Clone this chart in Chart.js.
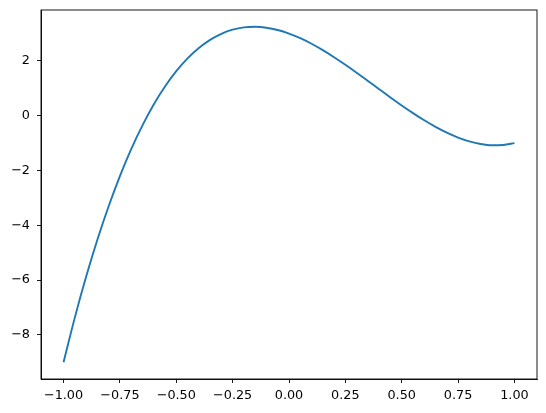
<!DOCTYPE html>
<html>
<head>
<meta charset="utf-8">
<script src="https://cdn.jsdelivr.net/npm/chart.js@4/dist/chart.umd.min.js"></script>
<style>
html,body{margin:0;padding:0;background:#fff;}
#wrap{width:546px;height:413px;position:relative;}
</style>
</head>
<body>
<div id="wrap"><canvas id="c"></canvas></div>
<script>
const xValues = [-1.00,-0.95,-0.90,-0.85,-0.80,-0.75,-0.70,-0.65,-0.60,-0.55,-0.50,-0.45,-0.40,-0.35,-0.30,-0.25,-0.20,-0.15,-0.10,-0.05,0.00,0.05,0.10,0.15,0.20,0.25,0.30,0.35,0.40,0.45,0.50,0.55,0.60,0.65,0.70,0.75,0.80,0.85,0.90,0.95,1.00];
const yValues = [-9.000,-7.372,-5.883,-4.529,-3.304,-2.203,-1.221,-0.352,0.408,1.065,1.625,2.092,2.472,2.770,2.991,3.141,3.224,3.246,3.213,3.129,3.000,2.831,2.627,2.394,2.136,1.859,1.569,1.270,0.968,0.668,0.375,0.095,-0.168,-0.408,-0.619,-0.797,-0.936,-1.031,-1.077,-1.068,-1.000];
const xTicks = [-1.00,-0.75,-0.50,-0.25,0.00,0.25,0.50,0.75,1.00];
const yTicks = [-8,-6,-4,-2,0,2];

const points = xValues.map((x,i)=>({x:x,y:yValues[i]}));

const frame = {
  id:'frame',
  afterDraw(chart){
    const a = chart.chartArea, ctx = chart.ctx;
    ctx.save();
    ctx.strokeStyle = '#000';
    ctx.lineWidth = 0.9;
    ctx.strokeRect(a.left, a.top, a.right-a.left, a.bottom-a.top);
    ctx.restore();
  }
};

new Chart(document.getElementById('c'), {
  type:'line',
  data:{datasets:[{data:points,borderColor:'#1f77b4',borderWidth:1.9,pointRadius:0,fill:false,cubicInterpolationMode:'monotone'}]},
  options:{
    responsive:true,maintainAspectRatio:false,animation:false,
    layout:{padding:{top:10,right:9,left:0,bottom:0}},
    plugins:{legend:{display:false},tooltip:{enabled:false}},
    scales:{
      x:{type:'linear',min:-1.1,max:1.1,
        afterBuildTicks(s){s.ticks=xTicks.map(v=>({value:v}));},
        afterFit(s){s.height=34;s.paddingLeft=0;s.paddingRight=0;},
        grid:{drawOnChartArea:false,drawTicks:true,tickLength:4,color:'#000',lineWidth:0.9},
        border:{display:true,color:'#000',width:0.9},
        ticks:{color:'#000',font:{family:'DejaVu Sans',size:12.8},padding:5,maxRotation:0,
          callback:(v)=>{const s=Number(v).toFixed(2);return s.replace('-','\u2212');}}
      },
      y:{type:'linear',min:-9.6125,max:3.859,
        afterBuildTicks(s){s.ticks=yTicks.map(v=>({value:v}));},
        afterFit(s){s.width=41;s.paddingTop=0;s.paddingBottom=0;},
        grid:{drawOnChartArea:false,drawTicks:true,tickLength:4,color:'#000',lineWidth:0.9},
        border:{display:true,color:'#000',width:0.9},
        ticks:{color:'#000',font:{family:'DejaVu Sans',size:12.8},padding:7,
          callback:(v)=>String(v).replace('-','\u2212')}
      }
    }
  },
  plugins:[frame]
});
</script>
</body>
</html>
